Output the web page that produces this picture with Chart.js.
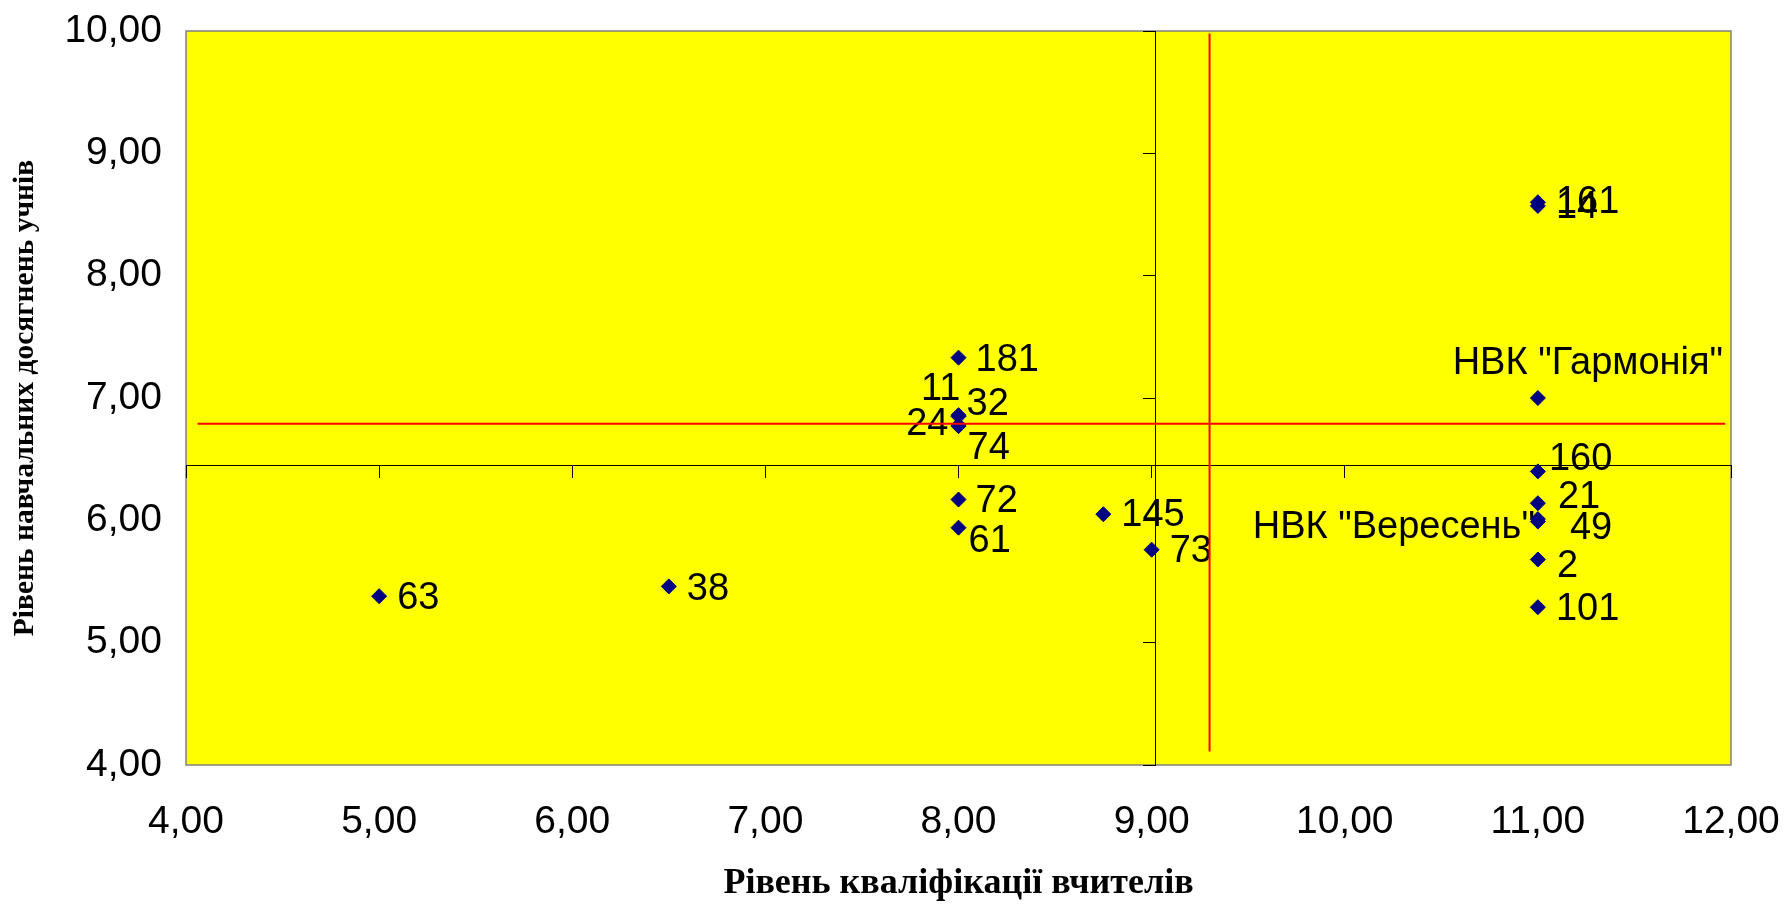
<!DOCTYPE html>
<html>
<head>
<meta charset="utf-8">
<script src="https://cdn.jsdelivr.net/npm/chart.js@4.4.0/dist/chart.umd.min.js"></script>
<style>
  html, body { margin: 0; padding: 0; background: #fff; }
  #wrap { width: 1787px; height: 905px; }
</style>
</head>
<body>
<div id="wrap"><canvas id="chart" width="1787" height="905"></canvas></div>
<script>
/* Scatter: teacher qualification vs pupil achievement, by school */

const schoolNames = ['63', '38', '181', '11', '32', '24', '74', '72', '61', '145', '73',
  '161', '14', 'НВК "Гармонія"', '160', '21', '49', 'НВК "Вересень"', '2', '101'];
const teacherLevel = [5.00, 6.50, 8.00, 8.00, 8.00, 8.00, 8.00, 8.00, 8.00, 8.75, 9.00,
  11.00, 11.00, 11.00, 11.00, 11.00, 11.00, 11.00, 11.00, 11.00];
const pupilLevel = [5.38, 5.46, 7.33, 6.86, 6.85, 6.78, 6.77, 6.17, 5.94, 6.05, 5.76,
  8.60, 8.57, 7.00, 6.40, 6.14, 6.01, 5.99, 5.68, 5.29];

const xRange = [4, 12];
const yRange = [4, 10];

// where the black axes cross each other
const crossX = 9.02;
const crossY = 6.45;

// red reference lines
const redLineX = 9.30;
const redLineXSpan = [4.11, 9.98];
const redLineY = 6.79;
const redLineYSpan = [4.06, 11.97];

// label placement next to each point: [dx px, dy px, textAlign]
const labelPlacement = [
  [18, 2, 'left'], [18, 3, 'left'], [17, 3, 'left'], [2, -26, 'right'], [8, -12, 'left'],
  [-10, 0, 'right'], [9, 22, 'left'], [17, 2, 'left'], [10, 14, 'left'], [18, 1, 'left'],
  [18, 2, 'left'], [18, 0, 'left'], [18, 2, 'left'], [50, -34, 'center'], [11, -12, 'left'],
  [20, -6, 'left'], [32, 9, 'left'], [-3, 6, 'right'], [19, 7, 'left'], [18, 2, 'left'],
];

const fmt = v => v.toFixed(2).replace('.', ',');
const sans = '"Liberation Sans", Arial, sans-serif';
const serif = '"Liberation Serif", "Times New Roman", serif';

const plotFrame = {
  id: 'plotFrame',
  beforeDraw(chart) {
    const { ctx, chartArea: a } = chart;
    ctx.save();
    ctx.fillStyle = '#FFFF00';
    ctx.fillRect(a.left, a.top, a.width, a.height);
    ctx.strokeStyle = '#808080';
    ctx.lineWidth = 1.5;
    ctx.strokeRect(a.left, a.top, a.width, a.height);
    ctx.restore();
  }
};

const pointLabels = {
  id: 'pointLabels',
  beforeDatasetsDraw(chart) {
    const { ctx } = chart;
    const meta = chart.getDatasetMeta(2);
    ctx.save();
    ctx.font = '38px ' + sans;
    ctx.fillStyle = '#000';
    ctx.textBaseline = 'middle';
    meta.data.forEach((pt, i) => {
      const [dx, dy, align] = labelPlacement[i];
      ctx.textAlign = align;
      ctx.fillText(schoolNames[i], pt.x + dx, pt.y + dy);
    });
    ctx.restore();
  }
};

new Chart(document.getElementById('chart').getContext('2d'), {
  type: 'scatter',
  data: {
    datasets: [
      { data: redLineXSpan.map(y => ({ x: redLineX, y })), showLine: true, borderColor: '#FF0000',
        borderWidth: 2, pointRadius: 0, xAxisID: 'x', yAxisID: 'y' },
      { data: redLineYSpan.map(x => ({ x, y: redLineY })), showLine: true, borderColor: '#FF0000',
        borderWidth: 2, pointRadius: 0, xAxisID: 'x', yAxisID: 'y' },
      { data: teacherLevel.map((x, i) => ({ x, y: pupilLevel[i] })), pointStyle: 'rectRot',
        pointRadius: 7.5, backgroundColor: '#000080', borderColor: '#000080', borderWidth: 1,
        xAxisID: 'x', yAxisID: 'y' },
    ]
  },
  options: {
    responsive: false,
    animation: false,
    events: [],
    layout: { padding: { top: 31, right: 56, left: 0, bottom: 0 } },
    plugins: { legend: { display: false }, tooltip: { enabled: false } },
    scales: {
      x: {
        type: 'linear', position: 'bottom', min: xRange[0], max: xRange[1],
        afterFit: s => { s.height = 140; s.paddingLeft = 0; s.paddingRight = 0; },
        grid: { display: false, drawTicks: false },
        border: { display: false },
        ticks: { stepSize: 1, padding: 34, color: '#000', font: { family: sans, size: 39 }, callback: fmt },
        title: { display: true, text: 'Рівень кваліфікації вчителів', color: '#000',
          font: { family: serif, size: 36, weight: 'bold', lineHeight: 1.2 }, padding: { top: 0, bottom: 0 } }
      },
      y: {
        type: 'linear', position: 'left', min: yRange[0], max: yRange[1],
        afterFit: s => { s.width = 186; s.paddingTop = 0; s.paddingBottom = 0; },
        grid: { display: false, drawTicks: false },
        border: { display: false },
        ticks: { stepSize: 1, padding: 24, color: '#000', font: { family: sans, size: 39 }, callback: fmt },
        title: { display: true, text: 'Рівень навчальних досягнень учнів', color: '#000',
          font: { family: serif, size: 29.5, weight: 'bold', lineHeight: 1.2 }, padding: { top: 8, bottom: 0 } }
      },
      xCross: {
        type: 'linear', axis: 'x', position: { y: crossY }, min: xRange[0], max: xRange[1],
        ticks: { display: false, stepSize: 1 },
        grid: { drawOnChartArea: false, drawTicks: true, tickLength: 12, color: '#000', lineWidth: 1 },
        border: { color: '#000', width: 1 }
      },
      yCross: {
        type: 'linear', axis: 'y', position: { x: crossX }, min: yRange[0], max: yRange[1],
        ticks: { display: false, stepSize: 1 },
        grid: { drawOnChartArea: false, drawTicks: true, tickLength: 12, color: '#000', lineWidth: 1 },
        border: { color: '#000', width: 1 }
      }
    }
  },
  plugins: [plotFrame, pointLabels]
});
</script>
</body>
</html>
